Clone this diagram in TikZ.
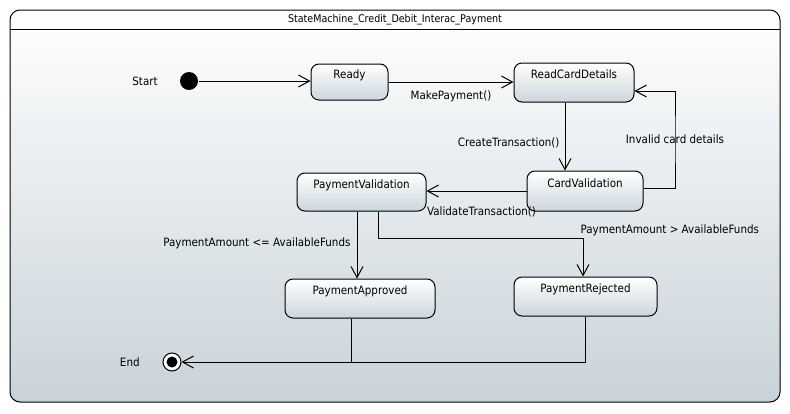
\documentclass[tikz,border=0pt]{standalone}
\usepackage{fontspec}
\setmainfont{DejaVu Sans}[FakeStretch=0.9]
\usetikzlibrary{positioning,arrows.meta}
\definecolor{smgray}{RGB}{200,211,217}
\definecolor{stgray}{RGB}{204,214,220}

\begin{document}
\begin{tikzpicture}[
		x=1pt,y=-1pt,
		font=\fontsize{11.5}{13}\selectfont,
		line width=1pt,
		st/.style={ draw, rounded corners=8pt, top color=white, bottom color=stgray,
			minimum height=38pt, text height=8pt, text depth=16pt, inner sep=0pt, },
		tr/.style={ -{Straight Barb[length=11pt,width=12pt,line width=1pt]}, },
		lbl/.style={ inner sep=1pt, },
		initial/.style={ circle, fill=black, inner sep=0pt, minimum size=18pt, },
		final/.style={ circle, draw, fill=white, inner sep=0pt, minimum size=18pt,
			path picture={\fill[black](path picture bounding box.center)circle(5.5pt);}, },
		]
		
		\useasboundingbox (0,0) rectangle (790,413);
		\draw[rounded corners=10pt,top color=white,bottom color=smgray](10,10)rectangle(780,402);
		\draw(10,29)--(780,29);
		\node[font=\fontsize{10.6}{13}\selectfont](title) at (395,20){StateMachine\_Credit\_Debit\_Interac\_Payment};
		
		\node[initial](start) at (189,81){};
		\node[left=18pt of start](startlbl){Start};
		\node[final](end) at (172,362){};
		\node[left=19pt of end](endlbl){End};
		
		\node[st,minimum width=77pt,minimum height=36pt](ready) at (349.5,82){Ready};
		\node[st,minimum width=120pt,minimum height=39pt](rcd) at (574,82.5){ReadCardDetails};
		\node[st,minimum width=116pt,minimum height=40pt](cv) at (585,191){CardValidation};
		\node[st,minimum width=129pt](pv) at (361.5,192){PaymentValidation};
		\node[st,minimum width=150pt,minimum height=39pt](pa) at (360,298.5){PaymentApproved};
		\node[st,minimum width=143pt,minimum height=39pt](pr) at (585.5,296.5){PaymentRejected};
		
		\coordinate(loop) at (675,139);
		\coordinate(rj) at (583,238);
		
		\draw[tr](start)--(start-|ready.west);
		\draw[tr](ready.east)--(ready.east-|rcd.west)
			node[lbl,midway,below=7pt]{MakePayment()};
		\draw[tr]([xshift=-9pt]rcd.south)--([xshift=-9pt]rcd.south|-cv.north)
			node[lbl,pos=.6,left=4pt]{CreateTransaction()};
		\draw[tr]([yshift=3pt]cv.east)-|(loop)|-([yshift=-8.5pt]rcd.east);
		\node[lbl](inv) at (loop){Invalid card details};
		\draw[tr](cv.west)--(cv.west-|pv.east)
			node[lbl,pos=.45,below=14pt]{ValidateTransaction()};
		\draw[tr]([xshift=-4.5pt]pv.south)--([xshift=-4.5pt]pv.south|-pa.north)
			node[lbl,pos=.47,left=5pt]{PaymentAmount <= AvailableFunds};
		\draw[tr]([xshift=16.5pt]pv.south)|-(rj)--(rj|-pr.north);
		\node[lbl,above right=1pt and -4pt of rj](rjlbl){PaymentAmount > AvailableFunds};
		\draw([xshift=-9pt]pa.south)--([xshift=-9pt]pa.south|-end);
		\draw[tr](pr.south)|-(end.east);
	\end{tikzpicture}
\end{document}
